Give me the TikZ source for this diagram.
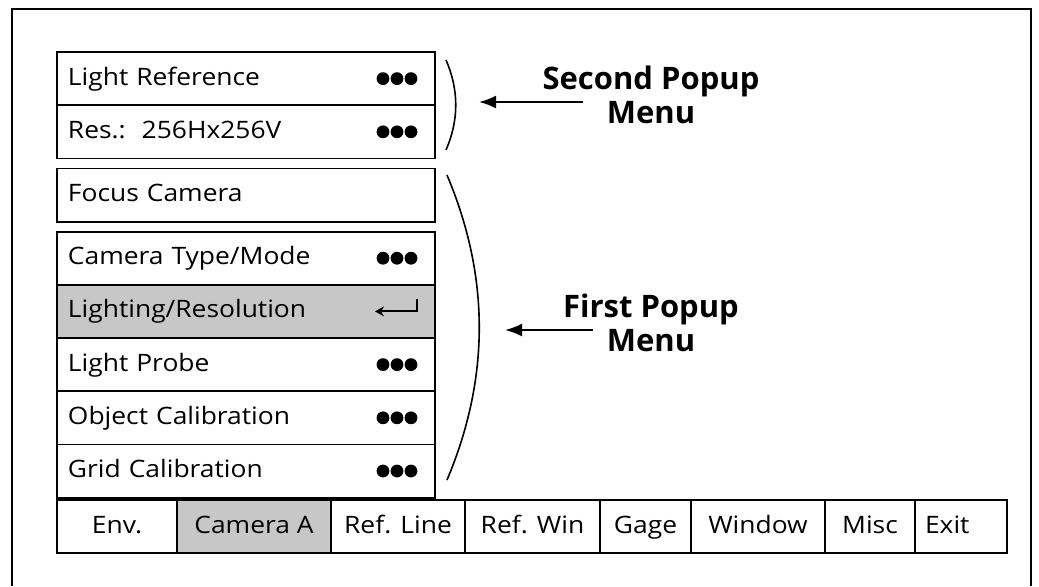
\documentclass[tikz,border=0pt]{standalone}
\usepackage{fontspec}
\setmainfont{Open Sans}
\newfontfamily\menufont{Open Sans}[FakeStretch=1.1]
\usetikzlibrary{calc, arrows.meta, positioning}

\begin{document}
\begin{tikzpicture}[
    x=0.5pt, y=-0.5pt,
    >={Latex[length=8.5pt,width=6.5pt]},
    item/.style={rectangle, draw, line width=0.9pt, outer sep=0pt,
        minimum height=26.6pt, text width=178pt, inner xsep=5.5pt,
        inner ysep=0pt, text height=9pt, text depth=2.5pt, align=left,
        font=\menufont\fontsize{12}{14}\selectfont},
    picked/.style={item, fill=black!22},
    tab/.style={rectangle, draw, line width=0.9pt, outer sep=0pt,
        minimum height=26.6pt, inner sep=0pt, text height=9pt, text depth=2.5pt,
        font=\menufont\fontsize{12}{14}\selectfont},
    callout/.style={align=center, font=\fontsize{15.5}{17}\selectfont\bfseries},
    bracket/.style={line width=0.8pt}
]

\useasboundingbox (0,0) rectangle (1039,586);

% Frame ------------------------------------------------------

\draw[line width=1.4pt] (12,586) -- (12,9) -- (1031,9) -- (1031,586);

% Menus ------------------------------------------------------

\node[item, anchor=north west] (lref) at (57,52) {Light Reference};
\node[item, below=0pt of lref] (res) {Res.:\ \ 256Hx256V};

\node[item, below=5pt of res] (focus) {Focus Camera};

\node[item, below=5pt of focus] (camtype) {Camera Type/Mode};
\node[picked, below=0pt of camtype] (lighting) {Lighting/Resolution};
\node[item, below=0pt of lighting] (probe) {Light Probe};
\node[item, below=0pt of probe] (objcal) {Object Calibration};
\node[item, below=0pt of objcal] (gridcal) {Grid Calibration};

\foreach \r in {lref,res,camtype,probe,objcal,gridcal}
    \foreach \dx in {-52,-38,-24}
        \fill ($(\r.east)+(\dx,0)$) circle[radius=3.2pt];

\draw[line width=1pt, -{Stealth[length=4.5pt,width=5pt]}]
    ($(lighting.east)+(-18,-12)$) -- ($(lighting.east)+(-18,0)$)
    -- ($(lighting.east)+(-60,0)$);

% Menu bar ---------------------------------------------------

\node[tab, anchor=north west, minimum width=60pt] (env) at (57,500) {Env.};
\node[tab, fill=black!22, minimum width=77pt, right=0pt of env] (cama) {Camera A};
\node[tab, minimum width=67pt, right=0pt of cama] (refline) {Ref. Line};
\node[tab, minimum width=67.5pt, right=0pt of refline] (refwin) {Ref. Win};
\node[tab, minimum width=45.5pt, right=0pt of refwin] (gage) {Gage};
\node[tab, minimum width=67pt, right=0pt of gage] (window) {Window};
\node[tab, minimum width=45pt, right=0pt of window] (misc) {Misc};
\node[tab, text width=36pt, inner xsep=5pt, align=left, right=0pt of misc] (exit) {Exit};

% Callouts ---------------------------------------------------

\node[callout] (second) at (651,95) {Second Popup\\Menu};
\node[callout] (first) at (651,323) {First Popup\\Menu};

\coordinate (second-tail) at (583,102);
\coordinate (second-head) at (479,102);
\coordinate (first-tail) at (593,330);
\coordinate (first-head) at (505,330);

\draw[bracket] (446,60) .. controls (459,90) and (459,120) .. (446,150);
\draw[bracket] (447,175) .. controls (490,277) and (490,378) .. (447,480);

\draw[->, line width=1pt] (second-tail) -- (second-head);
\draw[->, line width=1pt] (first-tail) -- (first-head);

\end{tikzpicture}
\end{document}
